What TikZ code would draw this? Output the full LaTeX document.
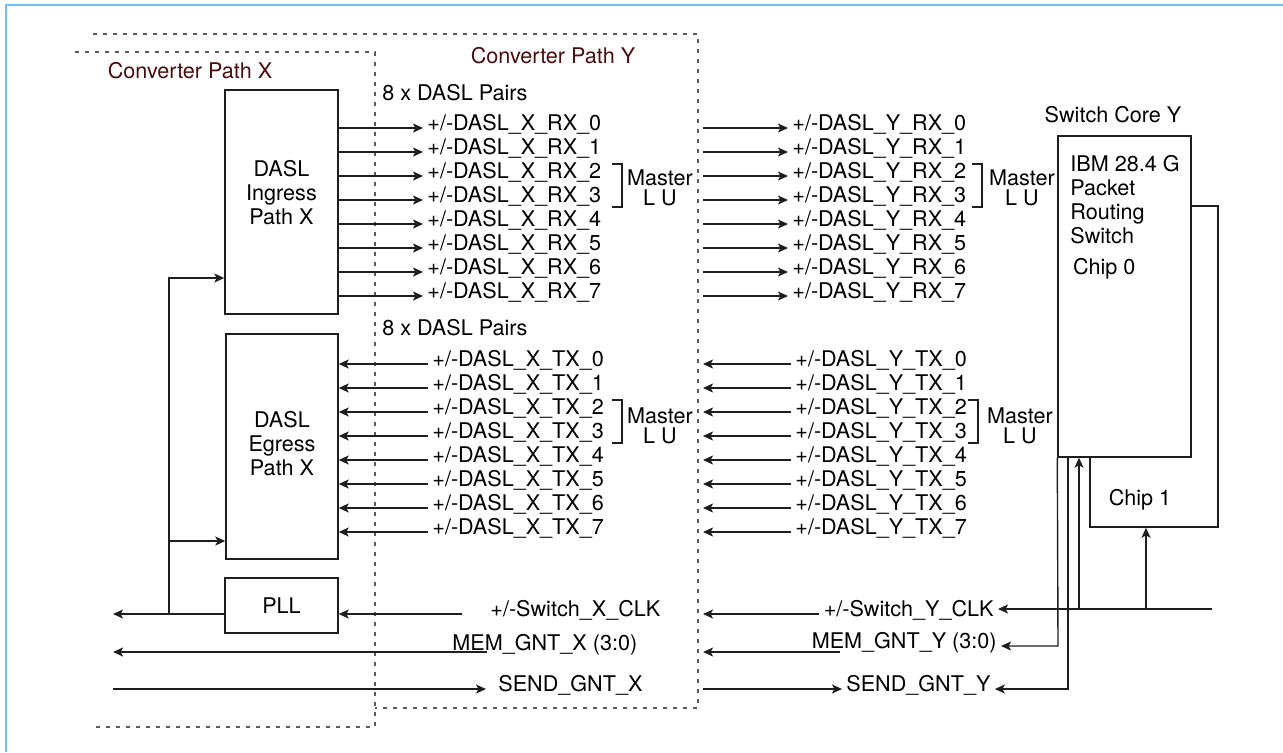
\documentclass[tikz,border=0pt]{standalone}
\usepackage{fontspec}
\setmainfont{TeX Gyre Heros}
\usetikzlibrary{arrows.meta}
\definecolor{framecol}{HTML}{6CC0FA}
\definecolor{pathcol}{HTML}{4A0C0C}
\definecolor{linecol}{HTML}{1E1E1E}
\definecolor{dashcol}{HTML}{5A5A5A}
\newcommand\sigfont{\fontsize{10.8}{12}\selectfont}

\begin{document}
\begin{tikzpicture}[x=0.5pt,y=-0.5pt,font=\sigfont,
	sig/.style={inner sep=2pt,text height=7.5pt,text depth=5.5pt},
	arr/.style={draw=linecol,line width=0.7pt,-{Stealth[length=5pt,width=4.5pt,inset=1.2pt]}},
	blk/.style={draw=linecol,line width=0.7pt,fill=white,inner sep=0pt},
	pathbox/.style={draw=dashcol,line width=0.6pt,dash pattern=on 2pt off 3pt}]
\useasboundingbox (0,0) rectangle (1283,752);
\draw[framecol,line width=1pt] (6,752) -- (6,5) -- (1283,5);

\draw[pathbox] (75,52) -- (375,52) -- (375,727) -- (93,727);
\draw[pathbox] (93,34) -- (698,34) -- (698,708) -- (375,708);
\node[text=pathcol] (titleX) at (190,71) {Converter Path X};
\node[text=pathcol] (titleY) at (553,56) {Converter Path Y};

\node[blk,minimum width=56.5pt,minimum height=112pt] (ingress) at (281.5,202) {};
\node[align=center] (ingresstxt) at (281.5,193) {DASL\\Ingress\\Path X};
\node[blk,minimum width=56pt,minimum height=112.5pt] (egress) at (282,446.5) {};
\node[align=center] (egresstxt) at (282,444) {DASL\\Egress\\Path X};
\node[blk,minimum width=56.5pt,minimum height=27.5pt] (pll) at (281.5,605.5) {PLL};

\node[sig,anchor=west] (pairsrx) at (378,98) {8 x DASL Pairs};
\node[sig,anchor=west] (pairstx) at (378,333) {8 x DASL Pairs};

\coordinate (yedge) at (703,0);
\foreach \i in {0,...,7}{
	\node[sig,anchor=west] (rxX\i) at (423,128+24*\i) {+/-DASL\_X\_RX\_\i};
	\draw[arr] (ingress.east |- rxX\i.west) -- (rxX\i.west);
	\node[sig,anchor=west] (txX\i) at (428,364+24*\i) {+/-DASL\_X\_TX\_\i};
	\draw[arr] (txX\i.west) -- (egress.east |- txX\i.west);
	\node[sig,anchor=west] (rxY\i) at (788,128+24*\i) {+/-DASL\_Y\_RX\_\i};
	\draw[arr] (yedge |- rxY\i.west) -- (rxY\i.west);
	\node[sig,anchor=west] (txY\i) at (791,364+24*\i) {+/-DASL\_Y\_TX\_\i};
	\draw[arr] (txY\i.west) -- (yedge |- txY\i.west);
	}

\foreach \bx/\by in {612/164,612/400,972/164,968/400}
	\draw[linecol,line width=0.6pt] (\bx,\by) -- ++(10,0) -- ++(0,43) -- ++(-10,0);
\foreach \nm/\mx/\my in {mastXrx/660/188,mastYrx/1022/188,mastXtx/660/426,mastYtx/1020/426}
	\node[align=center] (\nm) at (\mx,\my) {Master\\[-2pt]L U};

\node[blk,minimum width=64pt,minimum height=160.5pt] (chip1) at (1154,366.5) {};
\node[blk,minimum width=66.5pt,minimum height=160.5pt] (chip0) at (1124.5,296.5) {};
\node (coretitle) at (1113,115) {Switch Core Y};
\node[align=left,anchor=north west,inner sep=2pt] (chip0txt) at (1066,151) {IBM 28.4 G\\Packet\\Routing\\Switch};
\node[anchor=west] (chip0lbl) at (1066,269) {Chip 0};
\node (chip1lbl) at (1140,500) {Chip 1};

\coordinate (leftX) at (113,0);
\coordinate (clkin) at (1212,609);
\coordinate (clktap0) at (1079,609);
\coordinate (clktap1) at (1146,609);
\node[sig,anchor=east] (clkY) at (998,614) {+/-Switch\_Y\_CLK};
\draw[arr] (clkin) -- (clkin -| clkY.east);
\draw[arr] (clktap1) -- (clktap1 |- chip1.south);
\draw[arr] (clktap0) -- (clktap0 |- chip0.south);
\draw[arr] (clkY.west) -- (yedge |- clkY.west);

\node[sig,anchor=west] (clkX) at (486,614) {+/-Switch\_X\_CLK};
\draw[arr,shorten <=12pt] (clkX.west) -- (pll.east |- clkX.west);
\coordinate (pllout) at (169,614);
\coordinate (fbtop) at (169,278);
\coordinate (fbbot) at (169,541);
\draw[arr] (pll.west |- pllout) -- (leftX |- pllout);
\draw[arr] (pllout) -- (fbtop) -- (fbtop -| ingress.west);
\draw[arr] (fbbot) -- (fbbot -| egress.west);

\node[sig,anchor=west] (memX) at (448,648) {MEM\_GNT\_X (3:0)};
\coordinate (memXend) at (487,652);
\draw[arr] (memXend) -- (leftX |- memXend);
\node[sig,anchor=east] (memY) at (1001,646) {MEM\_GNT\_Y (3:0)};
\coordinate (memYend) at (840,652);
\draw[arr] (memYend) -- (yedge |- memYend);
\coordinate (memtap) at (1058,646);
\draw[arr] (chip0.south west) -- (memtap) -- (memtap -| memY.east);

\node[sig,anchor=west] (sendX) at (494,689) {SEND\_GNT\_X};
\draw[arr,shorten >=4pt] (leftX |- sendX.west) -- (sendX.west);
\node[sig,anchor=west] (sendY) at (842,689) {SEND\_GNT\_Y};
\draw[arr] (yedge |- sendY.west) -- (sendY.west);
\coordinate (sendtap) at (1068,689);
\draw[arr] (sendtap |- chip0.south) -- (sendtap) -- (sendtap -| sendY.east);
\end{tikzpicture}
\end{document}
